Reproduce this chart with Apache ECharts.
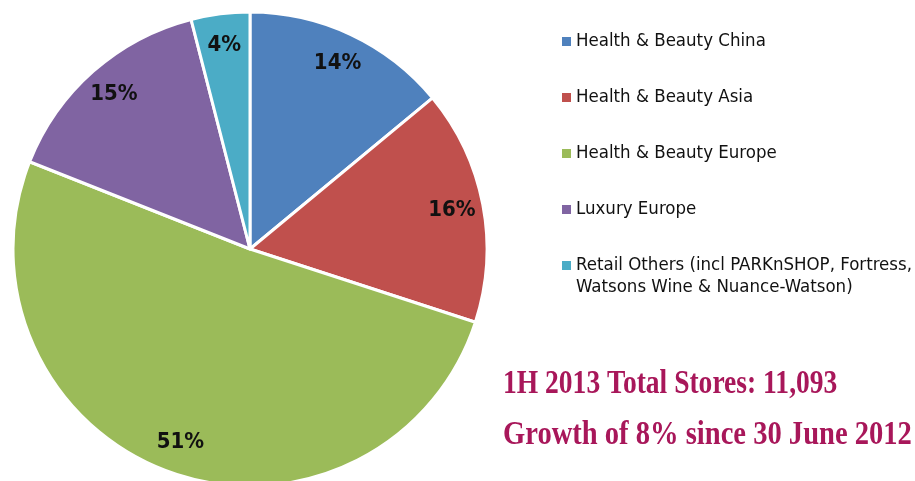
<!DOCTYPE html>
<html>
<head>
<meta charset="utf-8">
<script src="https://cdn.jsdelivr.net/npm/echarts@6/dist/echarts.min.js"></script>
<style>
  html, body { margin: 0; padding: 0; background: #fff; }
  #chart { width: 915px; height: 481px; }
</style>
</head>
<body>
<div id="chart"></div>
<script>
const categories = [
  "Health & Beauty China",
  "Health & Beauty Asia",
  "Health & Beauty Europe",
  "Luxury Europe",
  "Retail Others (incl PARKnSHOP, Fortress,\nWatsons Wine & Nuance-Watson)"
]
const shares = [14, 16, 51, 15, 4]
const colors = ["#4f81bd", "#c0504d", "#9bbb59", "#8064a2", "#4bacc6"]
const notes = ["1H 2013 Total Stores: 11,093", "Growth of 8% since 30 June 2012"]

const chart = echarts.init(document.getElementById("chart"), null, { renderer: "canvas" })

const cx = 250
const cy = 249
const radius = 237
const sans = "'Liberation Sans Narrow', 'DejaVu Sans Condensed', 'Open Sans', sans-serif"

const pieData = shares.map((value, i) => ({ name: categories[i], value }))

// legend drawn by hand so the marker lines up with the first line of wrapped names
const legendRows = [41, 97, 153, 209, 265]
const legendGraphic = []
categories.forEach((name, i) => {
  legendGraphic.push({
    type: "rect",
    shape: { x: 562, y: legendRows[i] - 4, width: 9, height: 9 },
    style: { fill: colors[i] }
  })
  legendGraphic.push({
    type: "text",
    x: 576,
    y: legendRows[i] - 11,
    style: {
      text: name,
      fill: "#111",
      font: `18.5px ${sans}`,
      lineHeight: 22,
      verticalAlign: "top"
    }
  })
})

const noteGraphic = notes.map((text, i) => ({
  type: "text",
  x: 503,
  y: 401 + i * 51,
  scaleX: [0.81, 0.84][i],
  style: {
    text,
    fill: "#a8175a",
    font: "bold 34px 'Liberation Serif', 'DejaVu Serif', serif",
    textVerticalAlign: "bottom"
  }
}))

chart.setOption({
  animation: false,
  color: colors,
  graphic: [...legendGraphic, ...noteGraphic],
  series: [
    {
      type: "pie",
      center: [cx, cy],
      radius: [0, radius],
      startAngle: 90,
      clockwise: true,
      silent: true,
      label: { show: false },
      labelLine: { show: false },
      itemStyle: { borderColor: "#fff", borderWidth: 3 },
      data: pieData
    },
    {
      // transparent ring whose middle carries the percentage labels
      type: "pie",
      center: [cx, cy],
      radius: [radius * 0.71, radius],
      startAngle: 90,
      clockwise: true,
      silent: true,
      itemStyle: { color: "rgba(0,0,0,0)", borderWidth: 0 },
      labelLine: { show: false },
      label: {
        show: true,
        position: "inside",
        formatter: "{c}%",
        color: "#111",
        fontFamily: sans,
        fontWeight: "bold",
        fontSize: 22
      },
      data: pieData
    }
  ]
})
</script>
</body>
</html>
